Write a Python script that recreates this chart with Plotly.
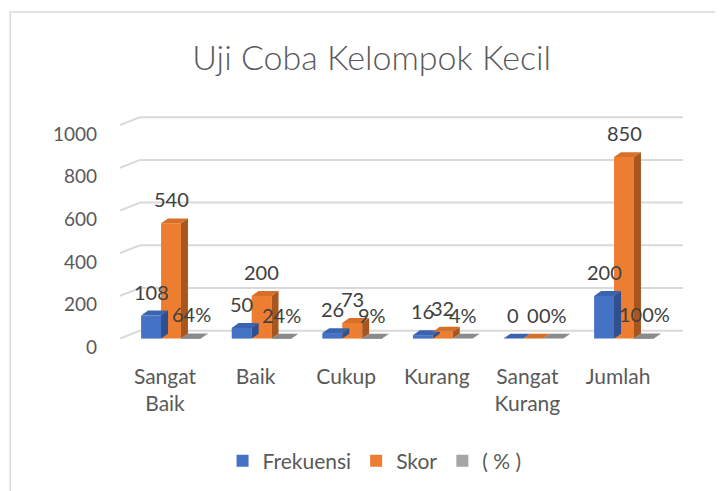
import plotly.graph_objects as go

# ---------------- data ----------------
categories = ["Sangat<br>Baik", "Baik", "Cukup", "Kurang", "Sangat<br>Kurang", "Jumlah"]
frekuensi = [108, 50, 26, 16, 0, 200]
skor = [540, 200, 73, 32, 0, 850]
persen = [0.64, 0.24, 0.09, 0.04, 0.00, 1.00]
persen_labels = ["64%", "24%", "9%", "4%", "0%", "100%"]
y_ticks = [0, 200, 400, 600, 800, 1000]

# ---------------- styling / geometry ----------------
FONT = "Lato, 'Open Sans', sans-serif"
TXT = "#595959"
LBL = "#404040"
front = {"Frekuensi": "#4472C4", "Skor": "#ED7D31", "( % )": "#A5A5A5"}
topc = {"Frekuensi": "#3B64B0", "Skor": "#D86F28", "( % )": "#8A8A8A"}
sidec = {"Frekuensi": "#2E5090", "Skor": "#A8561E", "( % )": "#7A7A7A"}

X_RANGE = [-0.563, 5.651]
Y_RANGE = [-30, 1080]
BAR_W = 0.22
DX = 0.077      # depth offset in x data units
DY = 23         # depth offset in y data units

fig = go.Figure()
series = [("Frekuensi", frekuensi), ("Skor", skor), ("( % )", persen)]
xs = list(range(len(categories)))

for name, vals in series:
    fig.add_trace(go.Bar(x=xs, y=vals, name=name, marker_color=front[name],
                         marker_line_width=0, width=BAR_W))

shapes = []
annotations = []
# gridlines (back wall + left side wall) and value-axis labels
for t in y_ticks:
    xl_back = X_RANGE[0] + 0.221
    shapes.append(dict(type="line", xref="x", yref="y", layer="below",
                       x0=xl_back, x1=X_RANGE[1], y0=t + 37, y1=t + 37,
                       line=dict(color="#D9D9D9", width=2)))
    shapes.append(dict(type="line", xref="x", yref="y", layer="below",
                       x0=X_RANGE[0], x1=xl_back, y0=t, y1=t + 37,
                       line=dict(color="#D9D9D9", width=2)))
    annotations.append(dict(x=0, xref="paper", y=t, yref="y", text=str(t),
                            showarrow=False, xanchor="right", yanchor="middle",
                            xshift=-21, yshift=-8,
                            font=dict(family=FONT, size=19, color=TXT)))

offsets = [-BAR_W, 0, BAR_W]
for k, (name, vals) in enumerate(series):
    for i, v in enumerate(vals):
        xc = i + offsets[k]
        xl, xr = xc - BAR_W / 2, xc + BAR_W / 2
        # top face
        shapes.append(dict(type="path", xref="x", yref="y", layer="above",
                           path=f"M{xl},{v} L{xr},{v} L{xr+DX},{v+DY} L{xl+DX},{v+DY} Z",
                           fillcolor=topc[name], line=dict(width=0)))
        # side face
        if v > 0.5:
            shapes.append(dict(type="path", xref="x", yref="y", layer="above",
                               path=f"M{xr},0 L{xr},{v} L{xr+DX},{v+DY} L{xr+DX},{DY} Z",
                               fillcolor=sidec[name], line=dict(width=0)))
        label = persen_labels[i] if name == "( % )" else str(v)
        annotations.append(dict(x=i, y=v, xref="x", yref="y", text=label,
                                showarrow=False, xshift=offsets[k] / BAR_W * 20,
                                yshift=24, yanchor="middle", xanchor="center",
                                font=dict(family=FONT, size=20, color=LBL)))

# outer chart border
shapes.append(dict(type="rect", xref="paper", yref="paper",
                   x0=-0.195, x1=1.2, y0=-0.7, y1=1.405,
                   line=dict(color="#D9D9D9", width=1.5), fillcolor="rgba(0,0,0,0)"))

fig.update_layout(
    width=723, height=491,
    margin=dict(l=112, r=48, t=100, b=154),
    paper_bgcolor="white", plot_bgcolor="white",
    barmode="group", bargap=0.34, bargroupgap=0,
    title=dict(text="Uji Coba Kelompok Kecil", x=0.503, xanchor="center",
               y=0.897, yanchor="middle", yref="container",
               font=dict(family=FONT, size=34, color=TXT, weight=300)),
    xaxis=dict(range=X_RANGE, tickvals=xs, ticktext=categories, showgrid=False,
               zeroline=False, showline=False, ticks="", ticklabelstandoff=17,
               ticklabelshift=-6,
               tickfont=dict(family=FONT, size=21, color=TXT)),
    yaxis=dict(range=Y_RANGE, tickvals=y_ticks, showgrid=False, zeroline=False,
               showline=False, ticks="", showticklabels=False),
    legend=dict(orientation="h", xref="container", yref="container",
                x=0.507, y=0.077, xanchor="center", yanchor="middle",
                font=dict(family=FONT, size=21, color=TXT),
                itemwidth=30, tracegroupgap=0),
    shapes=shapes, annotations=annotations,
    showlegend=True,
)

fig.write_html("out.html")
